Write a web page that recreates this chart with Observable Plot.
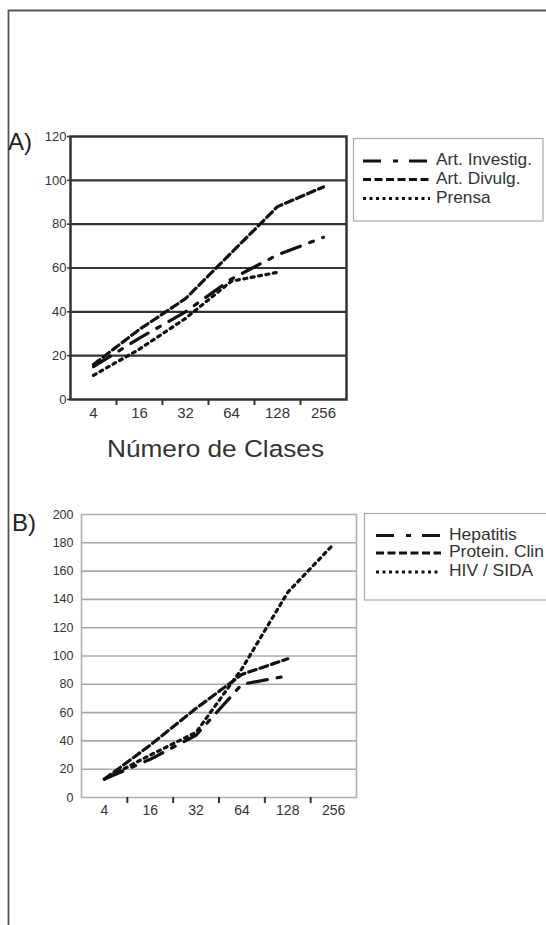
<!DOCTYPE html>
<html><head><meta charset="utf-8">
<script src="https://cdn.jsdelivr.net/npm/d3@7"></script>
<script src="https://cdn.jsdelivr.net/npm/@observablehq/plot@0.6"></script>
<style>
html,body{margin:0;padding:0;background:#fff;}
#page{position:relative;width:546px;height:925px;overflow:hidden;font-family:"Liberation Sans",Arial,sans-serif;color:#333;background:#fff;}
#page svg.plotA,#page svg.plotB{position:absolute;left:0;}
#overlay{position:absolute;left:0;top:0;}
</style></head><body><div id="page"></div>
<script>
// ---- data ----
const categories = ["4","16","32","64","128","256"];

const yTicksA = [0,20,40,60,80,100,120];
const gridA = [20,40,60,80,100];
const seriesA = ["Art. Investig.","Art. Divulg.","Prensa"];
const artInvestig = [15,28,40,55,66,74];
const artDivulg   = [16,32,46,67,88,97];
const prensa      = [11,23,37,54,58];

const yTicksB = [0,20,40,60,80,100,120,140,160,180,200];
const gridB = [20,40,60,80,100,120,140,160,180];
const seriesB = ["Hepatitis","Protein. Clin","HIV / SIDA"];
const hepatitis   = [13,27,44,80,86];
const proteinClin = [13,37,63,87,98];
const hivSida     = [13,30,46,91,145,179];

const dashStyles = ["20,10,4,10","8,4","3,4.5"];
const legendDash = ["18,12,5,11","8,3.5","3,3.5"];

const FONT = '"Liberation Sans", Arial, sans-serif';
const page = document.getElementById("page");

function rows(names, arrays){
  return names.flatMap((n,k)=>arrays[k].map((v,i)=>({series:n, k, i, v})));
}

function chart(o){
  const data = rows(o.names, o.arrays);
  const idx = categories.map((_,i)=>i);
  const bounds = categories.slice(1).map((_,i)=>i+0.5);
  const p = Plot.plot({
    width:546, height:o.height,
    marginLeft:o.mL, marginRight:o.mR, marginTop:o.mT, marginBottom:o.height-o.mT-o.plotH,
    style:{background:"transparent", fontFamily:FONT, color:"#333", overflow:"visible"},
    x:{domain:[-0.5, categories.length-0.5], axis:null},
    y:{domain:o.yDomain, axis:null},
    marks:[
      Plot.ruleY(o.grid, {stroke:o.gridStroke, strokeWidth:o.gridWidth}),
      Plot.frame({stroke:o.frameStroke, strokeWidth:o.frameWidth}),
      Plot.axisY(o.yTicks, {anchor:"left", label:null, tickSize:o.yTickSize, tickPadding:o.yPad, fontSize:o.yFont, strokeWidth:1.5}),
      Plot.axisX(idx, {anchor:"bottom", label:null, tickSize:0, tickPadding:8, fontSize:o.xFont, tickFormat:i=>categories[i]}),
      Plot.axisX(bounds, {anchor:"bottom", label:null, tickSize:6, tickPadding:0, tickFormat:()=>"", strokeWidth:2}),
      ...o.names.map((n,k)=>Plot.line(data.filter(d=>d.k===k), {
        x:"i", y:"v", stroke:"#111", strokeWidth:3.2, strokeDasharray:dashStyles[k], strokeLinejoin:"round"
      }))
    ]
  });
  p.setAttribute("class", o.cls);
  p.style.top = o.top + "px";
  page.appendChild(p);
}

chart({cls:"plotA", top:120, height:310, mL:70, mR:200, mT:16, plotH:263,
  names:seriesA, arrays:[artInvestig, artDivulg, prensa],
  yDomain:[0,120], yTicks:yTicksA, grid:gridA,
  gridStroke:"#333", gridWidth:2.2, frameStroke:"#333", frameWidth:2.5,
  yFont:13, xFont:15, yTickSize:3, yPad:1});

chart({cls:"plotB", top:500, height:330, mL:81, mR:190, mT:14, plotH:283,
  names:seriesB, arrays:[hepatitis, proteinClin, hivSida],
  yDomain:[0,200], yTicks:yTicksB, grid:gridB,
  gridStroke:"#a8a8a8", gridWidth:1.6, frameStroke:"#b0b0b0", frameWidth:1.6,
  yFont:12.5, xFont:14, yTickSize:0, yPad:8});

// ---- overlay: border, panel labels, axis title, legends ----
const svg = d3.select(page).append("svg").attr("id","overlay")
  .attr("width",546).attr("height",925)
  .style("font-family",FONT);

svg.append("path").attr("d","M8.5,925 V10.5 H546")
  .attr("fill","none").attr("stroke","#555").attr("stroke-width",1.8);

svg.append("text").attr("x",8).attr("y",150).attr("font-size",24).attr("fill","#222").text("A)");
svg.append("text").attr("x",12).attr("y",531).attr("font-size",24).attr("fill","#222").text("B)");

svg.append("text").attr("transform","translate(215.5,457) scale(1.07,1)")
  .attr("text-anchor","middle").attr("font-size",24.5).attr("fill","#333").text("Número de Clases");

function legend(o){
  svg.append("rect").attr("x",o.x).attr("y",o.y).attr("width",o.w).attr("height",o.h)
    .attr("fill","#fff").attr("stroke","#aaa").attr("stroke-width",1.2);
  o.names.forEach((n,k)=>{
    const base = o.baselines[k];
    svg.append("line").attr("x1",o.lx1).attr("x2",o.lx2)
      .attr("y1",base-4).attr("y2",base-4)
      .attr("stroke","#111").attr("stroke-width",3.2).attr("stroke-dasharray",legendDash[k]);
    svg.append("text").attr("transform",`translate(${o.tx},${base}) scale(${o.sx},1)`)
      .attr("font-size",o.fs).attr("fill","#333").text(n);
  });
}
legend({x:353.5, y:138.5, w:189.5, h:82.5, names:seriesA, baselines:[165,183.5,202.5],
  lx1:363, lx2:430, tx:436, fs:16, sx:1.08});
legend({x:364.5, y:513.5, w:200, h:86.5, names:seriesB, baselines:[539.5,557,576],
  lx1:376, lx2:441, tx:449, fs:16, sx:1.09});
</script></body></html>
